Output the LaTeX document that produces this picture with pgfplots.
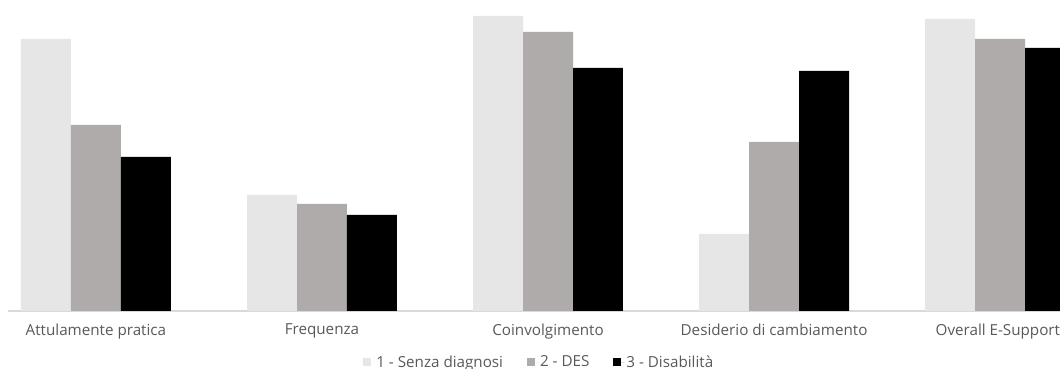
\documentclass[border=0pt]{standalone}
\usepackage{fontspec}
\setmainfont{Open Sans}
\usepackage{pgfplots}
\pgfplotsset{compat=1.18}
\definecolor{c1}{HTML}{E7E6E6}
\definecolor{c2}{HTML}{AFABAB}
\definecolor{c3}{HTML}{000000}
\definecolor{txt}{HTML}{595959}
\definecolor{axl}{HTML}{D9D9D9}
\begin{document}
\begin{tikzpicture}
\useasboundingbox (0,0) rectangle (1060pt,369pt);
\begin{axis}[
  at={(8pt,58pt)}, anchor=south west,
  scale only axis, width=1052pt, height=311pt,
  xmin=-0.389, xmax=4.265, ymin=0, ymax=311,
  ybar=0pt, bar width=0.221,
  hide y axis,
  axis x line*=bottom,
  x axis line style={axl, line width=1.2pt},
  xtick={0,1,2,3,3.99},
  xticklabels={Attulamente pratica,Frequenza,Coinvolgimento,Desiderio di cambiamento,Overall E-Support},
  major tick length=0pt,
  xticklabel style={text=txt, font=\fontsize{15.2}{18}\selectfont, yshift=-9pt},
  legend image code/.code={\fill[#1,draw=none] (0pt,-4pt) rectangle (8pt,4pt); \path (0pt,0pt) -- (11pt,0pt);},
  legend style={at={(0.505,-0.164)}, anchor=center, draw=none, fill=none,
    legend columns=-1, font=\fontsize{15.2}{18}\selectfont, text=txt,
    /tikz/every even column/.append style={column sep=22pt},
    legend cell align=left, inner sep=0pt},
]
\addplot[fill=c1, draw=none] coordinates {(0,272) (1,116) (2,295) (3,77) (4,292)};
\addplot[fill=c2, draw=none] coordinates {(0,186) (1,107) (2,279) (3,169) (4,272)};
\addplot[fill=c3, draw=none] coordinates {(0,154) (1,96) (2,243) (3,240) (4,263)};
\legend{1 - Senza diagnosi,2 - DES,3 - Disabilità}
\end{axis}
\end{tikzpicture}
\end{document}
